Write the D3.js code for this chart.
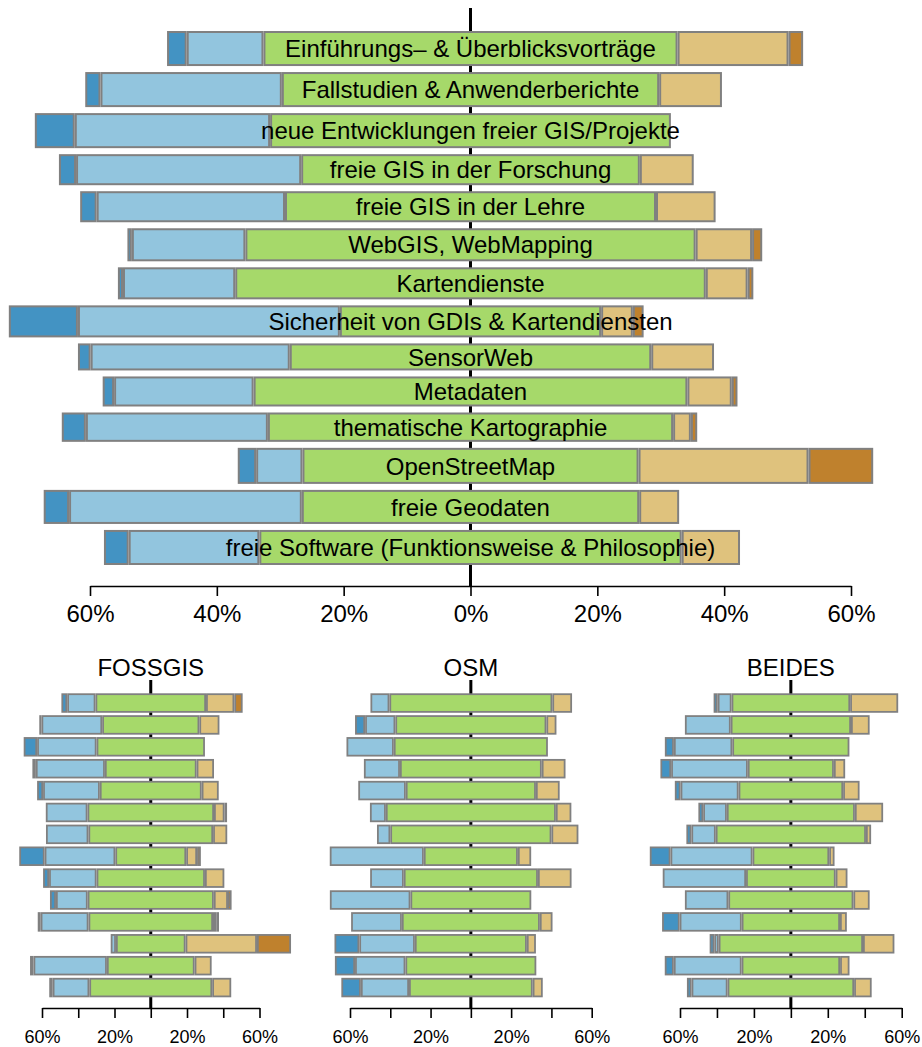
<!DOCTYPE html>
<html>
<head>
<meta charset="utf-8">
<script src="https://cdn.jsdelivr.net/npm/d3@7"></script>
<style>
body { margin: 0; background: #fff; }
svg { display: block; font-family: "Liberation Sans", Arial, sans-serif; }
</style>
</head>
<body>
<div id="chart"></div>
<script>
// Themen (von oben nach unten)
var themen = [
	'Einführungs– & Überblicksvorträge',
	'Fallstudien & Anwenderberichte',
	'neue Entwicklungen freier GIS/Projekte',
	'freie GIS in der Forschung',
	'freie GIS in der Lehre',
	'WebGIS, WebMapping',
	'Kartendienste',
	'Sicherheit von GDIs & Kartendiensten',
	'SensorWeb',
	'Metadaten',
	'thematische Kartographie',
	'OpenStreetMap',
	'freie Geodaten',
	'freie Software (Funktionsweise & Philosophie)'
];
// Anzahl Antworten je Thema (bestimmt die Balkendicke oben)
var antworten = [35, 35, 35, 31, 31, 33, 32, 32, 27, 30, 29.3, 36, 34, 35];

// Anteile in %: [sehr gering, gering, mittel, hoch, sehr hoch]
var gesamt = [
	[3.1, 12.1, 65.3, 17.5, 2.3],
	[2.4, 28.6, 59.5, 9.9, 0],
	[6.3, 30.8, 63.2, 0, 0],
	[2.7, 35.5, 53.4, 8.5, 0],
	[2.6, 29.7, 58.5, 9.4, 0],
	[0.7, 17.9, 71.0, 8.9, 1.6],
	[0.8, 17.7, 74.2, 6.6, 0.9],
	[10.9, 41.3, 41.2, 5.0, 1.7],
	[2.0, 31.4, 57.0, 9.9, 0],
	[1.8, 22.0, 68.4, 7.0, 0.9],
	[3.8, 28.7, 63.9, 2.8, 1.0],
	[2.9, 7.3, 53.0, 26.8, 10.2],
	[4.0, 36.7, 53.2, 6.3, 0],
	[3.9, 20.6, 66.6, 9.2, 0]
];
var fossgis = [
	[3.2, 15.6, 61.0, 15.6, 4.6],
	[1.2, 33.5, 53.6, 11.1, 0],
	[7.4, 32.8, 59.8, 0, 0],
	[1.9, 38.1, 50.6, 9.6, 0],
	[3.3, 31.3, 56.2, 9.4, 0],
	[0, 23.0, 69.8, 5.8, 1.4],
	[0, 23.4, 68.8, 7.8, 0],
	[14.0, 39.0, 39.1, 6.0, 2.1],
	[3.3, 26.2, 59.8, 10.7, 0],
	[3.3, 17.5, 69.6, 7.8, 2.0],
	[1.6, 26.4, 68.7, 1.8, 1.5],
	[0.5, 2.9, 38.4, 39.4, 18.8],
	[1.9, 40.5, 48.4, 9.4, 0],
	[1.9, 20.2, 67.8, 10.5, 0]
];
var osm = [
	[0, 9.4, 80.9, 9.8, 0],
	[5.0, 15.0, 75.0, 5.0, 0],
	[0, 23.5, 76.5, 0, 0],
	[0, 17.9, 70.4, 11.8, 0],
	[0, 23.6, 64.6, 11.8, 0],
	[0, 7.9, 84.4, 7.7, 0],
	[0, 6.6, 80.0, 13.4, 0],
	[0, 46.7, 46.7, 6.6, 0],
	[0, 16.7, 66.6, 16.7, 0],
	[0, 40.0, 60.0, 0, 0],
	[0, 25.2, 68.5, 6.3, 0],
	[12.3, 27.6, 55.6, 4.5, 0],
	[10.0, 25.0, 65.0, 0, 0],
	[9.7, 23.9, 61.4, 5.0, 0]
];
var beides = [
	[2.2, 7.5, 64.2, 26.0, 0],
	[0, 24.8, 65.1, 10.1, 0],
	[4.9, 31.6, 63.4, 0, 0],
	[5.8, 41.5, 46.6, 6.1, 0],
	[3.1, 31.4, 56.6, 8.9, 0],
	[2.6, 12.8, 69.3, 15.3, 0],
	[2.7, 13.2, 81.3, 2.8, 0],
	[11.2, 44.4, 41.5, 2.9, 0],
	[0, 45.1, 48.5, 6.4, 0],
	[0, 23.5, 67.7, 8.8, 0],
	[9.5, 33.6, 53.2, 3.7, 0],
	[2.5, 2.4, 78.1, 17.0, 0],
	[4.9, 36.7, 53.3, 5.1, 0],
	[2.5, 19.5, 68.5, 9.5, 0]
];
var gruppen = ['FOSSGIS', 'OSM', 'BEIDES'];
var tickWerte = [-60, -40, -20, 0, 20, 40, 60];
var tickBeschriftetKlein = [-60, -20, 20, 60];

var farben = ['#4393c3', '#92c5de', '#a6d96a', '#dfc27d', '#bf812d'];
var rahmen = '#808080';

// Segmente eines Balkens: mittlere Kategorie um 0 zentriert
function segmente(d) {
	var m = d[2] / 2;
	var s = [
		[-m - d[1] - d[0], -m - d[1], 0],
		[-m - d[1], -m, 1],
		[-m, m, 2],
		[m, m + d[3], 3],
		[m + d[3], m + d[3] + d[4], 4]
	];
	return s.filter(function (e) { return e[1] - e[0] > 0; });
}

function balken(g, daten, x, yOben, yUnten, sw) {
	daten.forEach(function (d, i) {
		g.selectAll(null).data(segmente(d)).enter()
			.append('rect')
			.attr('x', function (s) { return x(s[0]) + sw / 2; })
			.attr('width', function (s) { return Math.max(0, x(s[1]) - x(s[0]) - sw); })
			.attr('y', yOben(i) + sw / 2)
			.attr('height', yUnten(i) - yOben(i) - sw)
			.attr('fill', function (s) { return farben[s[2]]; })
			.attr('stroke', rahmen)
			.attr('stroke-width', sw);
	});
}

function achse(g, x, y, werte, beschriftet, fs, pad) {
	var a = g.append('g')
		.attr('transform', 'translate(0,' + y + ')')
		.call(d3.axisBottom(x).tickValues(werte).tickSize(10).tickSizeOuter(0).tickPadding(pad)
			.tickFormat(function (d) { return beschriftet.indexOf(d) >= 0 ? Math.abs(d) + '%' : ''; }));
	a.select('.domain').attr('stroke', '#000').attr('stroke-width', 1.6);
	a.selectAll('.tick line').attr('stroke', '#000').attr('stroke-width', 1.6);
	a.selectAll('.tick text').attr('fill', '#000').style('font-size', fs + 'px')
		.style('font-family', '"Liberation Sans", Arial, sans-serif');
}

var svg = d3.select('#chart').append('svg')
	.attr('width', 922)
	.attr('height', 1047);

// ---------- oberes Diagramm ----------
var xGes = d3.scaleLinear().domain([-60, 60]).range([90, 851]);
var luecke = 6;
var kum = [0];
antworten.forEach(function (n, i) { kum.push(kum[i] + n); });
var yGes = d3.scaleLinear().domain([0, kum[kum.length - 1]]).range([31, 565 - luecke * (antworten.length - 1)]);
var oben = function (i) { return yGes(kum[i]) + i * luecke; };
var unten = function (i) { return yGes(kum[i + 1]) + i * luecke; };

var obenG = svg.append('g');
obenG.append('line')
	.attr('x1', xGes(0)).attr('x2', xGes(0))
	.attr('y1', 8).attr('y2', 586)
	.attr('stroke', '#000').attr('stroke-width', 3);
balken(obenG, gesamt, xGes, oben, unten, 2);
obenG.selectAll('text.thema').data(themen).enter()
	.append('text')
	.attr('class', 'thema')
	.attr('x', xGes(0))
	.attr('y', function (d, i) { return (oben(i) + unten(i)) / 2; })
	.attr('dy', '0.36em')
	.attr('text-anchor', 'middle')
	.style('font-size', '24px')
	.text(function (d) { return d; });
achse(obenG, xGes, 586, tickWerte, tickWerte, 24, 9);

// ---------- kleine Diagramme ----------
var kleinDaten = [fossgis, osm, beides];
var kleinBereiche = [[42, 259.5], [350, 591.7], [680, 901.7]];
var yKlein = d3.scaleBand().domain(d3.range(themen.length)).range([693.3, 997.3]).paddingInner(0.11);

gruppen.forEach(function (name, k) {
	var x = d3.scaleLinear().domain([-60, 60]).range(kleinBereiche[k]);
	var g = svg.append('g');
	g.append('line')
		.attr('x1', x(0)).attr('x2', x(0))
		.attr('y1', 680).attr('y2', 1008)
		.attr('stroke', '#000').attr('stroke-width', 3);
	balken(g, kleinDaten[k], x,
		function (i) { return yKlein(i); },
		function (i) { return yKlein(i) + yKlein.bandwidth(); }, 1.8);
	g.append('text')
		.attr('x', x(0))
		.attr('y', 675.5)
		.attr('text-anchor', 'middle')
		.style('font-size', '24px')
		.text(name);
	achse(g, x, 1008, tickWerte, tickBeschriftetKlein, 18, 12);
});
</script>
</body>
</html>
